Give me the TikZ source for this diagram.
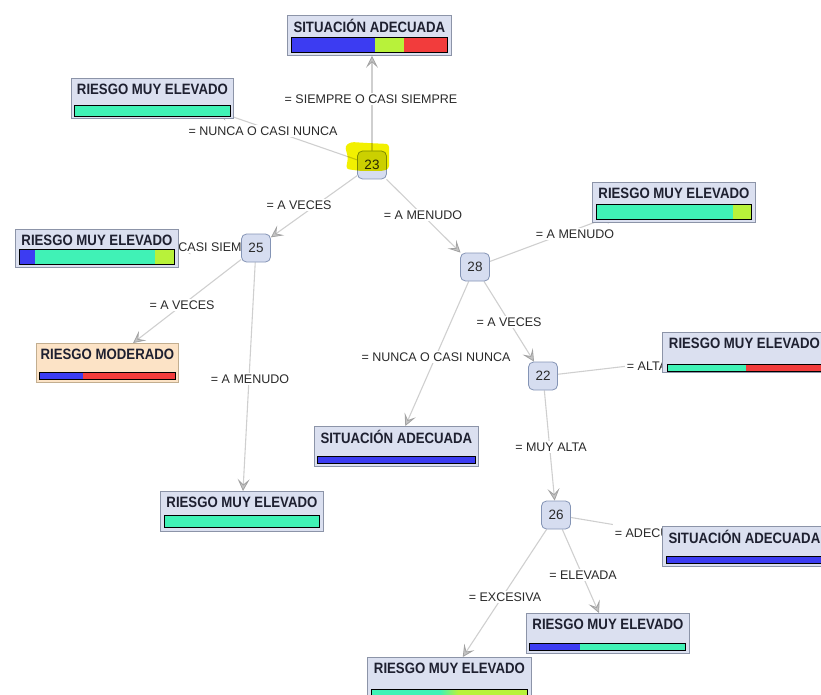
\documentclass[tikz,border=0pt]{standalone}
\usepackage{fontspec}
\setmainfont{Liberation Sans}
\newfontfamily\titlefont[FakeStretch=0.88]{Liberation Sans}
\usetikzlibrary{arrows.meta,calc}
\pgfdeclarelayer{edgelayer}
\pgfsetlayers{edgelayer,main}

\definecolor{leaffill}{HTML}{DBE0F0}
\definecolor{leafedge}{HTML}{8C94A8}
\definecolor{modfill}{HTML}{FCE3C6}
\definecolor{modedge}{HTML}{C2AE90}
\definecolor{nodefill}{HTML}{D6DDF0}
\definecolor{nodeedge}{HTML}{8494B5}
\definecolor{edgecol}{HTML}{CFCFCF}
\definecolor{arrowcol}{HTML}{A2A2A2}
\definecolor{arrowfill}{HTML}{C4C4C4}
\definecolor{titletext}{HTML}{1E2030}
\definecolor{labeltext}{HTML}{2A2A2A}
\definecolor{barblue}{HTML}{3C3CF2}
\definecolor{barteal}{HTML}{40F2B6}
\definecolor{bargreen}{HTML}{B8F23A}
\definecolor{barred}{HTML}{F23C3C}
\definecolor{hl}{HTML}{F2F000}

\tikzset{
  leafbox/.style={draw=leafedge, fill=leaffill, line width=0.8pt, inner sep=0pt, anchor=north west},
  modbox/.style={draw=modedge, fill=modfill},
  leaftitle/.style={font=\titlefont\fontsize{15}{17}\selectfont\bfseries, text=titletext, inner sep=0pt},
  decisionnode/.style={draw=nodeedge, fill=nodefill, line width=0.8pt, rounded corners=5pt,
    minimum width=29pt, minimum height=28pt, inner sep=0pt,
    font=\fontsize{13.5}{15}\selectfont, text=labeltext},
  link/.style={draw=edgecol, line width=1.1pt,
    -{Stealth[length=12pt,width=12pt,inset=5.5pt,color=arrowcol,fill=arrowfill,line width=0.8pt]}},
  lbl/.style={fill=white, inner sep=1.5pt, font=\fontsize{12.5}{14}\selectfont, text=labeltext},
  barline/.style={draw=black, line width=0.9pt},
}

% leaf box: [extra style]{name}{left}{top}{width}{height}{title}
\newcommand\leafnode[7][]{%
  \node[leafbox,#1, minimum width=#5pt, minimum height=#6pt] (#2) at (#3,#4) {};
  \node[leaftitle] (#2-t) at ([yshift=-11pt]#2.north) {#7};}
% bar segment: {x0}{y0}{x1}{y1}{colour}
\newcommand\barpart[5]{\fill[#5] (#1,#2) rectangle (#3,#4);}
\newcommand\barframe[4]{\draw[barline] (#1,#2) rectangle (#3,#4);}

\begin{document}
\begin{tikzpicture}[x=1pt,y=-1pt]
\useasboundingbox (0,0) rectangle (821,695);

% ---- leaves ----
\leafnode{Ltop}{287}{15}{164}{40}{SITUACIÓN ADECUADA}
\barpart{291}{37}{375}{52}{barblue}\barpart{375}{37}{404}{52}{bargreen}\barpart{404}{37}{447}{52}{barred}
\barframe{291}{37}{447}{52}

\leafnode{Lnn}{71}{78}{162}{40}{RIESGO MUY ELEVADO}
\barpart{74}{105}{230}{116}{barteal}\barframe{74}{105}{230}{116}

\leafnode{Lcs}{15}{229}{163}{38}{RIESGO MUY ELEVADO}
\barpart{19}{249}{35}{264}{barblue}\barpart{35}{249}{155}{264}{barteal}\barpart{155}{249}{174}{264}{bargreen}
\barframe{19}{249}{174}{264}

\leafnode[modbox]{Lmod}{36}{343}{142}{39}{RIESGO MODERADO}
\barpart{39}{372}{83}{379}{barblue}\barpart{83}{372}{175}{379}{barred}\barframe{39}{372}{175}{379}

\leafnode{Lm25}{160}{491}{163}{40}{RIESGO MUY ELEVADO}
\barpart{164}{515}{319}{527}{barteal}\barframe{164}{515}{319}{527}

\leafnode{L28}{592}{182}{163}{40}{RIESGO MUY ELEVADO}
\barpart{596}{204}{733}{219}{barteal}\barpart{733}{204}{751}{219}{bargreen}\barframe{596}{204}{751}{219}

\leafnode{Lmid}{314}{426}{164}{40}{SITUACIÓN ADECUADA}
\barpart{317}{456}{475}{463}{barblue}\barframe{317}{456}{475}{463}

\leafnode{Lalta}{662}{332}{164}{40}{RIESGO MUY ELEVADO}
\barpart{667}{364}{746}{371}{barteal}\barpart{746}{364}{822}{371}{barred}\barframe{667}{364}{822}{371}

\leafnode{Ladec}{662}{526}{164}{40}{SITUACIÓN ADECUADA}
\barpart{666}{556}{822}{563}{barblue}\barframe{666}{556}{822}{563}

\leafnode{Lelev}{526}{613}{163}{40}{RIESGO MUY ELEVADO}
\barpart{529}{643}{580}{650}{barblue}\barpart{580}{643}{685}{650}{barteal}\barframe{529}{643}{685}{650}

\leafnode{Lexc}{367}{657}{164}{40}{RIESGO MUY ELEVADO}
\barpart{371}{689}{440}{697}{barteal}
\shade[left color=barteal,right color=bargreen] (440,689) rectangle (458,697);
\barpart{458}{689}{527}{697}{bargreen}\barframe{371}{689}{527}{697}

% ---- decision nodes ----
\node[decisionnode] (n23) at (372,165) {23};
\node[decisionnode] (n25) at (256,248) {25};
\node[decisionnode] (n28) at (475,267) {28};
\node[decisionnode] (n22) at (543,376) {22};
\node[decisionnode] (n26) at (556,515) {26};

% selection highlight over node 23
\fill[hl, blend mode=multiply, rounded corners=3pt]
  (345,146) -- (351,142) -- (367,143) -- (389,144) -- (389,169) -- (382,171)
  -- (361,171) -- (346,169) -- (348,158) -- cycle;

% arrow ends hidden under two leaves
\coordinate (Lnn-in) at (216,111);
\coordinate (L28-in) at (617,214);

% ---- connectors ----
\begin{pgfonlayer}{edgelayer}
\draw[link] (n23) -- (n23 |- Ltop.south) node[lbl] (e1) at (371,99) {= SIEMPRE O CASI SIEMPRE};
\draw[link] (n23) -- (Lnn-in) node[lbl] (e2) at (263,131) {= NUNCA O CASI NUNCA};
\draw[link] (n23) -- (n25) node[lbl] (e3) at (299,205) {= A VECES};
\draw[link] (n23) -- (n28) node[lbl] (e4) at (423,215) {= A MENUDO};
\draw[link] (n25) -- (Lcs) node[lbl] (e5) at (181,247) {= SIEMPRE O CASI SIEMPRE};
\draw[link] (n25) -- (Lmod) node[lbl] (e6) at (182,305) {= A VECES};
\draw[link] (n25) -- (Lm25) node[lbl] (e7) at (250,379) {= A MENUDO};
\draw[link] (n28) -- (L28-in) node[lbl] (e8) at (575,234) {= A MENUDO};
\draw[link] (n28) -- (n22) node[lbl] (e9) at (509,322) {= A VECES};
\draw[link] (n28) -- (Lmid) node[lbl] (e10) at (436,357) {= NUNCA O CASI NUNCA};
\draw[link] (n22) -- (Lalta) node[lbl, minimum height=22pt] (e11) at (647,366) {= ALTA};
\draw[link] (n22) -- (n26) node[lbl] (e12) at (551,447) {= MUY ALTA};
\draw[link] (n26) -- (Ladec) node[lbl, minimum height=20pt] (e13) at (655,533) {= ADECUADA};
\draw[link] (n26) -- (Lelev) node[lbl] (e14) at (583,575) {= ELEVADA};
\draw[link] (n26) -- (Lexc) node[lbl] (e15) at (505,597) {= EXCESIVA};
\end{pgfonlayer}
\end{tikzpicture}
\end{document}
